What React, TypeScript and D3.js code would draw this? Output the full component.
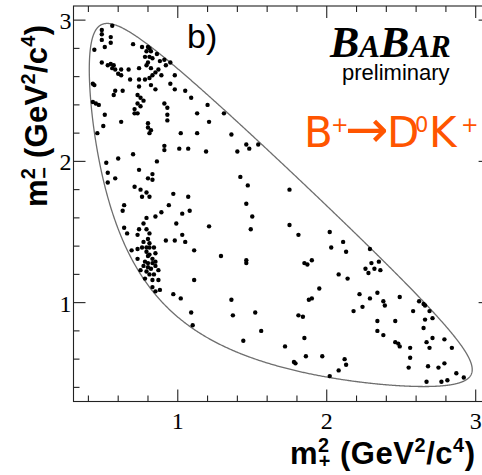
import React from "react";
import * as d3 from "d3";

// Dalitz plot of B+ -> D0 K+, D0 -> K_S pi+ pi- candidates.
// Each entry: [m+^2, m-^2] in GeV^2/c^4, m+- = m(K_S pi+-).
const eventsUpper: [number, number][] = [
  [0.56, 2.96], [0.49, 2.93], [0.49, 2.9], [0.55, 2.88], [0.49, 2.86], [0.55, 2.84], [0.51, 2.81],
  [0.44, 2.79], [0.7, 2.83], [0.76, 2.81], [0.8, 2.81], [0.81, 2.8], [0.79, 2.78], [0.82, 2.78],
  [0.78, 2.74], [0.81, 2.74], [0.86, 2.76], [0.83, 2.73], [0.88, 2.71], [0.91, 2.72], [0.95, 2.7],
  [0.92, 2.68], [0.49, 2.7], [0.53, 2.68], [0.55, 2.69], [0.57, 2.68], [0.56, 2.66], [0.58, 2.65],
  [0.62, 2.65], [0.67, 2.65], [0.74, 2.66], [0.79, 2.68], [0.8, 2.7], [0.82, 2.66], [0.85, 2.63],
  [0.89, 2.61], [0.87, 2.65], [0.83, 2.61], [0.98, 2.61], [0.81, 2.59], [0.78, 2.58], [0.74, 2.58],
  [0.68, 2.58], [0.62, 2.61], [0.6, 2.62], [0.43, 2.55], [0.44, 2.54], [0.74, 2.53], [0.82, 2.54],
  [0.85, 2.51], [0.95, 2.55], [0.98, 2.51], [1.05, 2.5], [1.09, 2.45], [0.57, 2.47], [0.58, 2.5],
  [0.63, 2.5], [0.73, 2.47], [0.75, 2.45], [0.77, 2.43], [0.73, 2.41], [0.75, 2.39], [0.71, 2.37],
  [0.73, 2.34], [0.71, 2.34], [0.43, 2.42], [0.45, 2.41], [0.47, 2.4], [0.91, 2.41], [0.93, 2.38],
  [0.93, 2.33], [0.93, 2.29], [1.2, 2.4], [1.13, 2.34], [1.31, 2.34], [0.51, 2.33], [0.5, 2.25],
  [0.62, 2.28], [0.8, 2.27], [0.8, 2.24], [0.82, 2.22], [0.81, 2.2], [1.02, 2.2], [1.13, 2.2],
  [1.21, 2.28], [0.46, 2.2],
];

const eventsMiddle: [number, number][] = [
  [1.36, 2.19], [1.46, 2.12], [1.54, 2.12], [1.48, 2.09], [1.4, 2.07], [1.19, 2.07], [1.07, 2.09],
  [1.01, 2.09], [0.91, 2.11], [0.91, 2.08], [0.7, 2.05], [0.6, 2.02], [0.86, 2.0], [0.52, 1.99],
  [0.53, 1.92], [0.74, 1.94], [0.83, 1.91], [0.8, 1.88], [0.83, 1.87], [0.58, 1.88], [0.53, 1.85],
  [0.71, 1.82], [0.75, 1.8], [0.79, 1.78], [0.76, 1.75], [0.81, 1.75], [0.97, 1.77], [1.07, 1.75],
  [0.64, 1.69], [0.63, 1.65], [0.94, 1.69], [0.89, 1.64], [0.85, 1.61], [0.79, 1.6], [1.08, 1.65],
  [1.03, 1.63], [0.77, 1.56], [0.99, 1.56], [1.21, 1.54], [0.64, 1.53], [0.66, 1.49], [0.74, 1.52],
  [0.79, 1.52], [0.81, 1.49], [0.73, 1.48], [0.92, 1.44], [0.98, 1.44], [1.03, 1.48], [1.05, 1.43],
  [0.77, 1.43], [0.8, 1.45], [0.81, 1.42], [0.69, 1.37], [0.73, 1.38], [0.76, 1.39], [0.79, 1.39],
  [0.81, 1.39], [0.84, 1.39], [0.85, 1.35], [0.79, 1.36], [0.81, 1.34], [0.73, 1.31], [0.8, 1.33],
  [0.83, 1.31], [0.78, 1.29], [0.8, 1.28], [0.83, 1.28], [0.85, 1.29], [0.77, 1.26], [0.8, 1.25],
  [0.82, 1.24], [0.87, 1.23], [0.75, 1.23], [0.85, 1.26], [0.79, 1.22], [0.81, 1.2], [0.84, 1.2],
  [0.78, 1.17], [0.83, 1.16], [0.87, 1.16], [1.11, 1.37], [1.11, 1.16], [1.29, 1.33], [0.83, 1.11],
  [0.88, 1.09], [0.85, 1.08], [0.97, 1.06], [1.02, 1.03], [1.42, 1.89], [1.47, 1.83], [1.46, 1.7],
  [1.5, 1.61], [1.49, 1.52], [1.46, 1.3], [1.46, 1.28], [1.36, 1.02], [1.75, 1.8], [1.75, 1.55],
  [1.81, 1.48], [2.02, 1.5], [2.03, 1.39],
];

const eventsLower: [number, number][] = [
  [2.11, 1.43], [2.13, 1.36], [2.29, 1.38], [1.85, 1.28], [1.87, 1.27], [1.9, 1.3], [2.08, 1.2],
  [2.14, 1.17], [1.95, 1.1], [1.88, 1.02], [1.9, 1.03], [1.37, 0.91], [1.52, 0.93], [1.56, 0.8],
  [1.44, 0.73], [1.81, 0.91], [1.84, 0.9], [1.85, 0.75], [1.72, 0.69], [1.86, 0.62], [1.97, 0.62],
  [1.78, 0.58], [1.79, 0.57], [2.12, 0.6], [2.13, 0.56], [2.08, 0.52], [2.02, 0.48], [1.09, 0.93],
  [1.1, 0.84], [2.22, 1.06], [2.24, 0.97], [2.18, 0.94], [2.29, 1.03], [2.34, 1.07], [2.38, 1.01],
  [2.39, 0.98], [2.49, 1.04], [2.34, 0.87], [2.46, 0.87], [2.34, 0.8], [2.38, 0.77], [2.46, 0.72],
  [2.48, 0.71], [2.49, 0.69], [2.56, 0.68], [2.56, 0.61], [2.55, 0.54], [2.58, 0.94], [2.62, 1.01],
  [2.65, 0.99], [2.66, 0.98], [2.69, 0.94], [2.66, 0.88], [2.71, 0.89], [2.65, 0.82], [2.67, 0.72],
  [2.71, 0.75], [2.69, 0.68], [2.79, 0.74], [2.84, 0.68], [2.68, 0.55], [2.75, 0.54], [2.79, 0.57],
  [2.87, 0.5], [2.92, 0.47], [2.67, 0.44], [2.77, 0.44], [2.81, 0.45], [2.26, 1.24], [2.28, 1.21],
  [2.3, 1.28], [2.32, 1.24], [2.36, 1.23], [2.35, 1.29],
];

const xMajorTicks = [1, 2, 3];
const yMajorTicks = [1, 2, 3];
const tickLabels = ["1", "2", "3"];

// Particle masses (GeV/c^2) defining the kinematic boundary
const M_D0 = 1.86484;
const M_KS = 0.497614;
const M_PI = 0.13957;

const WIDTH = 482;
const HEIGHT = 475;
const frame = { left: 73.5, top: 6, right: 490.6, bottom: 401.5 };
const domain: [number, number] = [0.3, 3.1];

const x = d3.scaleLinear().domain(domain).range([frame.left, frame.right]);
const y = d3.scaleLinear().domain(domain).range([frame.bottom, frame.top]);

// Closed Dalitz boundary: upper edge left->right, then lower edge back.
function dalitzBoundary(n = 600): [number, number][] {
  const sMin = (M_KS + M_PI) ** 2;
  const sMax = (M_D0 - M_PI) ** 2;
  const upper: [number, number][] = [];
  const lower: [number, number][] = [];
  for (let i = 0; i <= n; i++) {
    const t = (1 - Math.cos((Math.PI * i) / n)) / 2;
    const s = sMin + (sMax - sMin) * t;
    const rs = Math.sqrt(s);
    const e1 = (s + M_KS ** 2 - M_PI ** 2) / (2 * rs);
    const e3 = (M_D0 ** 2 - s - M_PI ** 2) / (2 * rs);
    const p1 = Math.sqrt(Math.max(0, e1 * e1 - M_KS ** 2));
    const p3 = Math.sqrt(Math.max(0, e3 * e3 - M_PI ** 2));
    const base = M_KS ** 2 + M_PI ** 2 + 2 * e1 * e3;
    upper.push([s, base + 2 * p1 * p3]);
    lower.push([s, base - 2 * p1 * p3]);
  }
  return upper.concat(lower.reverse());
}

const boundaryLine = d3
  .line<[number, number]>()
  .x((d) => x(d[0]))
  .y((d) => y(d[1]))
  .curve(d3.curveLinearClosed);

const minorTicks = d3.range(0.4, 3.05, 0.2).filter((v) => Math.abs(v - Math.round(v)) > 1e-6);

const TITLE_FONT = "'Liberation Sans', Arial, Helvetica, sans-serif";
const SERIF_FONT = "'Liberation Serif', 'Times New Roman', serif";

function AxisTitle({
  sign,
  px,
  py,
  length,
  vertical,
}: {
  sign: string;
  px: number;
  py: number;
  length: number;
  vertical?: boolean;
}) {
  const F = 31;
  const S = F * 0.64;
  const up = F * 0.4;
  return (
    <text
      x={px}
      y={py}
      transform={vertical ? `rotate(-90 ${px} ${py})` : undefined}
      textAnchor="end"
      fontFamily={TITLE_FONT}
      fontWeight="bold"
      fontSize={F}
      fill="#000"
      textLength={length}
      lengthAdjust="spacing"
    >
      m
      <tspan fontSize={S} dy={-up}>2</tspan>
      <tspan fontSize={S} dx={-S * 0.556} dy={up + F * 0.12}>{sign}</tspan>
      <tspan dy={-F * 0.12}>{" (GeV"}</tspan>
      <tspan fontSize={S} dy={-up}>2</tspan>
      <tspan dy={up}>/c</tspan>
      <tspan fontSize={S} dy={-up}>4</tspan>
      <tspan dy={up}>)</tspan>
    </text>
  );
}

export default function App() {
  const events = [...eventsUpper, ...eventsMiddle, ...eventsLower];
  const tickColor = "#222";
  const major = 12;
  const minor = 6;

  return (
    <div style={{ position: "absolute", left: 0, top: 0 }}>
      <svg width={WIDTH} height={HEIGHT} style={{ display: "block", background: "#fff" }}>
        {/* frame */}
        <rect
          x={frame.left}
          y={frame.top}
          width={frame.right - frame.left}
          height={frame.bottom - frame.top}
          fill="none"
          stroke={tickColor}
          strokeWidth={1.1}
        />
        {/* ticks on all four sides */}
        <g stroke={tickColor} strokeWidth={1.1}>
          {[...xMajorTicks.map((v) => [v, major]), ...minorTicks.map((v) => [v, minor])].map(([v, len], i) => (
            <g key={`xt${i}`}>
              <line x1={x(v)} x2={x(v)} y1={frame.bottom} y2={frame.bottom - len} />
              <line x1={x(v)} x2={x(v)} y1={frame.top} y2={frame.top + len} />
            </g>
          ))}
          {[...yMajorTicks.map((v) => [v, major]), ...minorTicks.map((v) => [v, minor])].map(([v, len], i) => (
            <g key={`yt${i}`}>
              <line x1={frame.left} x2={frame.left + len} y1={y(v)} y2={y(v)} />
              <line x1={frame.right} x2={frame.right - len} y1={y(v)} y2={y(v)} />
            </g>
          ))}
        </g>
        {/* tick labels */}
        <g fontFamily={SERIF_FONT} fontSize={24} fill="#000">
          {xMajorTicks.map((v, i) => (
            <text key={`xl${i}`} x={x(v)} y={429} textAnchor="middle">
              {tickLabels[i]}
            </text>
          ))}
          {yMajorTicks.map((v, i) => (
            <text key={`yl${i}`} x={71.5} y={y(v) + 9} textAnchor="end">
              {tickLabels[i]}
            </text>
          ))}
        </g>

        {/* kinematic boundary */}
        <path d={boundaryLine(dalitzBoundary()) ?? ""} fill="none" stroke="#6e6e6e" strokeWidth={1.3} />

        {/* events */}
        <g fill="#000">
          {events.map((d, i) => (
            <circle key={i} cx={x(d[0])} cy={y(d[1])} r={2.2} />
          ))}
        </g>

        {/* axis titles */}
        <AxisTitle sign="+" px={475} py={464} length={185} />
        <AxisTitle sign="−" px={47} py={25} length={182} vertical />

        {/* panel label */}
        <text x={187} y={48} fontFamily={TITLE_FONT} fontSize={34} fill="#000">
          b)
        </text>

        {/* experiment logo */}
        <text x={330} y={57} fontFamily={SERIF_FONT} fontWeight="bold" fontStyle="italic" fill="#000">
          <tspan fontSize={44}>B</tspan>
          <tspan fontSize={31}>A</tspan>
          <tspan fontSize={44}>B</tspan>
          <tspan fontSize={31}>AR</tspan>
        </text>
        <text x={342} y={80} fontFamily={TITLE_FONT} fontSize={22} fill="#000">
          preliminary
        </text>

        {/* decay channel */}
        <text fontFamily="'DejaVu Sans', sans-serif" fill="#ff5500">
          <tspan x={304} y={146.5} fontSize={42}>B</tspan>
          <tspan x={331} y={132} fontSize={21}>+</tspan>
          <tspan x={345} y={147} fontSize={52}>→</tspan>
          <tspan x={387} y={146.5} fontSize={42}>D</tspan>
          <tspan x={415} y={132} fontSize={21}>0</tspan>
          <tspan x={429} y={146.5} fontSize={42}>K</tspan>
          <tspan x={461} y={132} fontSize={21}>+</tspan>
        </text>
      </svg>
    </div>
  );
}
